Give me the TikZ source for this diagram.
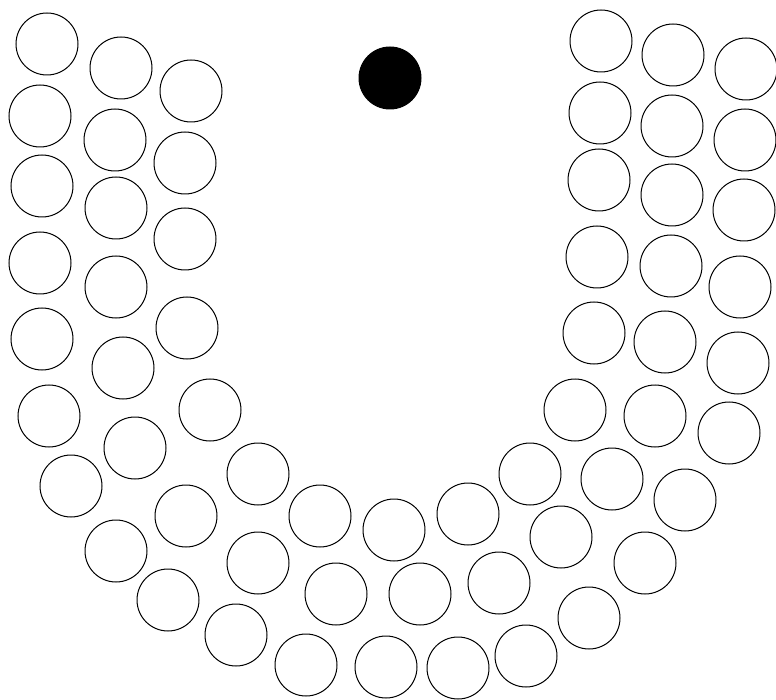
\documentclass[tikz,border=0pt]{standalone}
\begin{document}
\begin{tikzpicture}[x=1pt,y=1pt,
  ring/.style={circle,draw=black,line width=1pt,minimum size=62pt,inner sep=0pt,fill=white},
  dot/.style={circle,fill=black,draw=black,line width=1pt,minimum size=62pt,inner sep=0pt}]
\useasboundingbox (0,0) rectangle (776,-700);
% outer ring
\foreach \x/\y [count=\i] in {47/44,40/116,42/186,40/263,42/339,49/416,71/486,116/551,168/600,236/635,306/665,386/667,458/668,526/656,589/618,645/563,685/500,729/433,738/363,740/287,744/210,745/140,746/69}
  \node[ring] (o\i) at (\x,-\y) {};
% middle ring
\foreach \x/\y [count=\i] in {121/68,115/140,116/208,116/287,123/368,135/448,186/516,258/563,336/594,420/594,499/583,561/537,612/479,655/416,665/342,671/266,672/195,672/126,673/55}
  \node[ring] (m\i) at (\x,-\y) {};
% inner ring
\foreach \x/\y [count=\i] in {191/91,185/163,185/239,187/328,210/410,258/474,320/516,394/530,468/514,530/474,575/410,594/333,597/257,599/180,600/113,601/41}
  \node[ring] (n\i) at (\x,-\y) {};
% black dot
\node[dot] (ball) at (390,-78) {};
\end{tikzpicture}
\end{document}
